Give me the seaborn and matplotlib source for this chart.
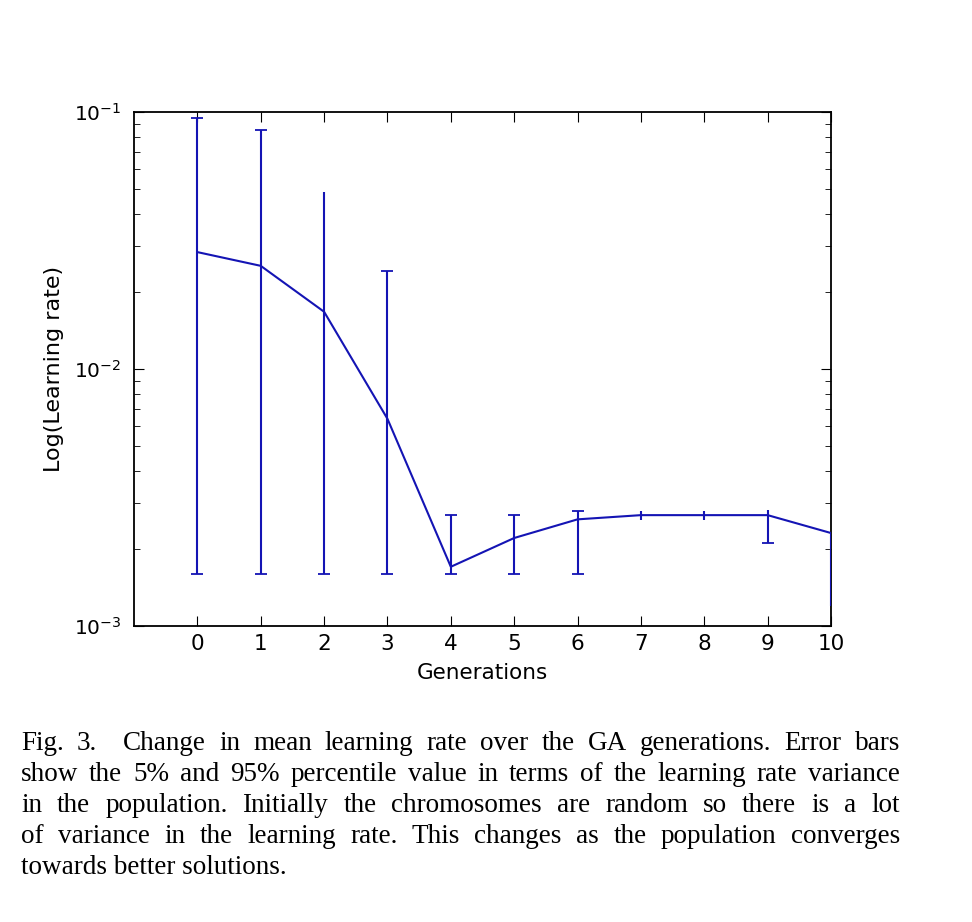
import matplotlib
matplotlib.use("Agg")
import pandas as pd
import matplotlib.pyplot as plt
import seaborn as sns
from matplotlib.ticker import LogLocator, NullFormatter

# values
generations = [0, 1, 2, 3, 4, 5, 6, 7, 8, 9, 10]
mean_lr = [0.0285, 0.0252, 0.0167, 0.0064, 0.0017, 0.0022, 0.0026, 0.0027, 0.0027, 0.0027, 0.0023]
p95_lr = [0.095, 0.085, 0.049, 0.024, 0.0027, 0.0027, 0.0028, 0.0028, 0.0028, 0.00282, 0.0023]
p05_lr = [0.0016, 0.0016, 0.0016, 0.0016, 0.0016, 0.0016, 0.0016, 0.00258, 0.00258, 0.0021, 0.0012]
# which ends of the bars carry a visible cap in the original
cap_hi = [True, True, False, True, True, True, True, False, False, False, False]
cap_lo = [True, True, True, True, True, True, True, False, False, True, False]
xticks = list(range(11))

caption_lines = [
    "Fig. 3.  Change in mean learning rate over the GA generations. Error bars",
    "show the 5% and 95% percentile value in terms of the learning rate variance",
    "in the population. Initially the chromosomes are random so there is a lot",
    "of variance in the learning rate. This changes as the population converges",
    "towards better solutions.",
]

df = pd.DataFrame({"Generations": generations, "lr": mean_lr,
                   "lo": p05_lr, "hi": p95_lr,
                   "cap_hi": cap_hi, "cap_lo": cap_lo})

sns.set_style("white")
plt.rcParams["font.family"] = ["DejaVu Sans"]
plt.rcParams["mathtext.fontset"] = "dejavusans"
plt.rcParams["text.color"] = "black"
plt.rcParams["axes.labelcolor"] = "black"

W, H = 972, 922
fig = plt.figure(figsize=(W / 100, H / 100), dpi=100)
ax = fig.add_axes([134 / W, 1 - 626 / H, (831 - 134) / W, (626 - 112) / H])

blue = "#1414b4"
sns.lineplot(data=df, x="Generations", y="lr", ax=ax, color=blue, lw=1.5, zorder=3)
ax.errorbar(df["Generations"], df["lr"],
            yerr=[df["lr"] - df["lo"], df["hi"] - df["lr"]],
            fmt="none", ecolor=blue, elinewidth=1.5, capsize=0, zorder=3)
hi_caps = df[df["cap_hi"]]
lo_caps = df[df["cap_lo"]]
ax.plot(hi_caps["Generations"], hi_caps["hi"], ls="none", marker="_",
        ms=8, mew=1.3, color=blue, zorder=3)
ax.plot(lo_caps["Generations"], lo_caps["lo"], ls="none", marker="_",
        ms=8, mew=1.3, color=blue, zorder=3)

ax.set_yscale("log")
ax.set_ylim(1e-3, 1e-1)
ax.set_xlim(-1, 10)
ax.set_xticks(xticks)
ax.yaxis.set_major_locator(LogLocator(base=10, numticks=10))
ax.yaxis.set_minor_locator(LogLocator(base=10, subs=range(2, 10), numticks=20))
ax.yaxis.set_minor_formatter(NullFormatter())

for s in ax.spines.values():
    s.set_color("black")
    s.set_linewidth(1.3)

ax.tick_params(axis="both", which="both", direction="in", top=True, right=True,
               bottom=True, left=True, colors="black")
ax.tick_params(axis="x", labelsize=15.5)
ax.tick_params(axis="y", labelsize=14.5)
ax.tick_params(axis="both", which="major", length=7, width=0.8)
ax.tick_params(axis="y", which="minor", length=4, width=0.6)
ax.tick_params(axis="y", which="both", pad=9)
ax.tick_params(axis="x", which="major", pad=6)

ax.set_xlabel("Generations", fontsize=15.5, labelpad=6)
ax.set_ylabel("Log(Learning rate)", fontsize=16, labelpad=7)

# caption, justified between two margins
left_px, right_px = 21, 900
base0, step = 750, 31
cap_size = 19.5
fig.canvas.draw()
renderer = fig.canvas.get_renderer()
for i, line in enumerate(caption_lines):
    y = 1 - (base0 + i * step) / H
    if i == len(caption_lines) - 1:
        fig.text(left_px / W, y, line, fontsize=cap_size, family="Liberation Serif",
                 va="baseline", ha="left")
        continue
    words = line.split(" ")  # an empty token keeps the double space
    arts = []
    widths = []
    for w in words:
        t = fig.text(0, y, w, fontsize=cap_size, family="Liberation Serif",
                     va="baseline", ha="left")
        arts.append(t)
        widths.append(t.get_window_extent(renderer).width if w else 0)
    gap = (right_px - left_px - sum(widths)) / (len(words) - 1)
    x = left_px
    for t, wd in zip(arts, widths):
        t.set_x(x / W)
        x += wd + gap

fig.savefig("out.png", dpi=100, facecolor="white")
